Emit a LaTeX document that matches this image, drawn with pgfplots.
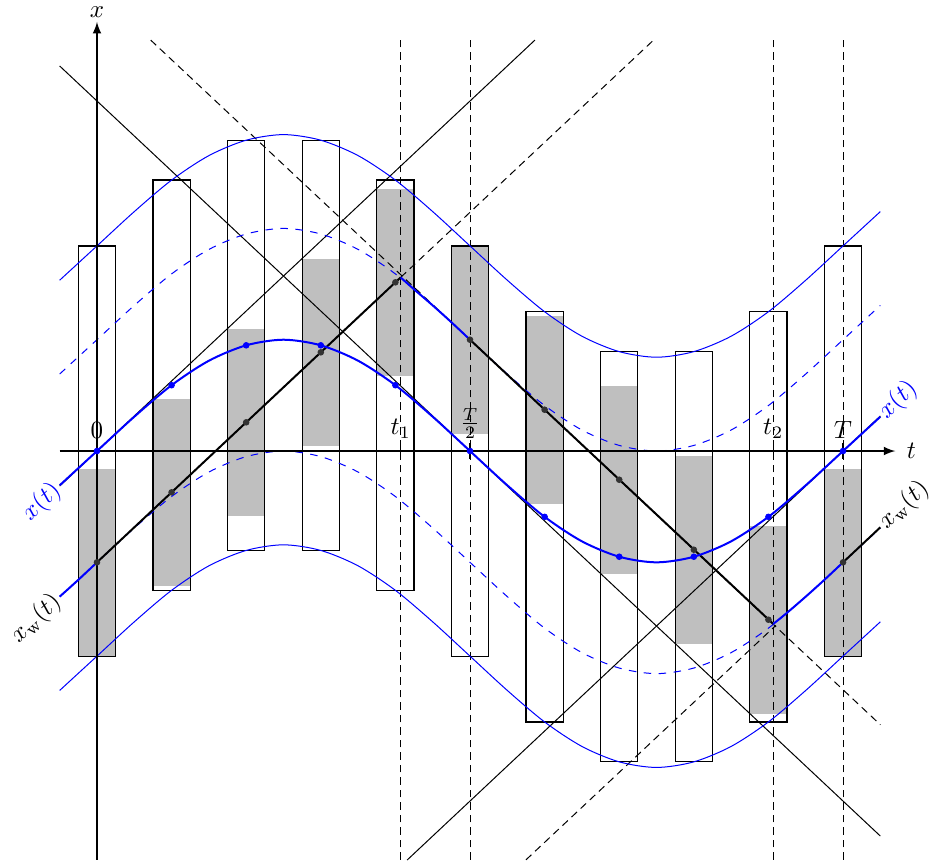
\documentclass[border=0pt]{standalone}
\usepackage{pgfplots}
\pgfplotsset{compat=1.18}
\begin{document}
\begin{tikzpicture}
\begin{axis}[x=29.84pt, y=28pt, xmin=-1.300, xmax=11.166, ymin=-5.929, ymax=6.443,
  hide axis, clip=false]
% gray windows
\addplot[fill=black!25, draw=none] coordinates {(-0.25,-2.93) (0.25,-2.93) (0.25,-0.25) (-0.25,-0.25)} --cycle;
\addplot[fill=black!25, draw=none] coordinates {(0.75,-1.93) (1.25,-1.93) (1.25,0.75) (0.75,0.75)} --cycle;
\addplot[fill=black!25, draw=none] coordinates {(1.75,-0.93) (2.25,-0.93) (2.25,1.75) (1.75,1.75)} --cycle;
\addplot[fill=black!25, draw=none] coordinates {(2.75,0.07) (3.25,0.07) (3.25,2.75) (2.75,2.75)} --cycle;
\addplot[fill=black!25, draw=none] coordinates {(3.75,1.07) (4.25,1.07) (4.25,3.75) (3.75,3.75)} --cycle;
\addplot[fill=black!25, draw=none] coordinates {(4.75,0.25) (5.25,0.25) (5.25,2.93) (4.75,2.93)} --cycle;
\addplot[fill=black!25, draw=none] coordinates {(5.75,-0.75) (6.25,-0.75) (6.25,1.93) (5.75,1.93)} --cycle;
\addplot[fill=black!25, draw=none] coordinates {(6.75,-1.75) (7.25,-1.75) (7.25,0.93) (6.75,0.93)} --cycle;
\addplot[fill=black!25, draw=none] coordinates {(7.75,-2.75) (8.25,-2.75) (8.25,-0.07) (7.75,-0.07)} --cycle;
\addplot[fill=black!25, draw=none] coordinates {(8.75,-3.75) (9.25,-3.75) (9.25,-1.07) (8.75,-1.07)} --cycle;
\addplot[fill=black!25, draw=none] coordinates {(9.75,-2.93) (10.25,-2.93) (10.25,-0.25) (9.75,-0.25)} --cycle;
% bars
\addplot[draw=black, line width=0.5pt] coordinates {(-0.25,-2.93) (0.25,-2.93) (0.25,2.93) (-0.25,2.93)} --cycle;
\addplot[draw=black, line width=0.5pt] coordinates {(0.75,-1.99) (1.25,-1.99) (1.25,3.87) (0.75,3.87)} --cycle;
\addplot[draw=black, line width=0.5pt] coordinates {(1.75,-1.42) (2.25,-1.42) (2.25,4.44) (1.75,4.44)} --cycle;
\addplot[draw=black, line width=0.5pt] coordinates {(2.75,-1.42) (3.25,-1.42) (3.25,4.44) (2.75,4.44)} --cycle;
\addplot[draw=black, line width=0.5pt] coordinates {(3.75,-1.99) (4.25,-1.99) (4.25,3.87) (3.75,3.87)} --cycle;
\addplot[draw=black, line width=0.5pt] coordinates {(4.75,-2.93) (5.25,-2.93) (5.25,2.93) (4.75,2.93)} --cycle;
\addplot[draw=black, line width=0.5pt] coordinates {(5.75,-3.87) (6.25,-3.87) (6.25,1.99) (5.75,1.99)} --cycle;
\addplot[draw=black, line width=0.5pt] coordinates {(6.75,-4.44) (7.25,-4.44) (7.25,1.42) (6.75,1.42)} --cycle;
\addplot[draw=black, line width=0.5pt] coordinates {(7.75,-4.44) (8.25,-4.44) (8.25,1.42) (7.75,1.42)} --cycle;
\addplot[draw=black, line width=0.5pt] coordinates {(8.75,-3.87) (9.25,-3.87) (9.25,1.99) (8.75,1.99)} --cycle;
\addplot[draw=black, line width=0.5pt] coordinates {(9.75,-2.93) (10.25,-2.93) (10.25,2.93) (9.75,2.93)} --cycle;
% vertical dashed lines
\addplot[densely dashed, line width=0.4pt] coordinates {(0,-5.84) (0,5.87)};
\addplot[densely dashed, line width=0.4pt] coordinates {(4.07,-5.84) (4.07,5.87)};
\addplot[densely dashed, line width=0.4pt] coordinates {(5,-5.84) (5,5.87)};
\addplot[densely dashed, line width=0.4pt] coordinates {(9.065,-5.84) (9.065,5.87)};
\addplot[densely dashed, line width=0.4pt] coordinates {(10,-5.84) (10,5.87)};
% light cones
\addplot[black, line width=0.4pt] coordinates {(-0.5,5.5) (10.5,-5.5)};
\addplot[black, line width=0.4pt] coordinates {(-0.5,-0.5) (5.87,5.87)};
\addplot[black, line width=0.4pt] coordinates {(4.157,-5.843) (10.5,0.5)};
\addplot[black, densely dashed, line width=0.4pt] coordinates {(0.72,5.87) (10.5,-3.91)};
\addplot[black, densely dashed, line width=0.4pt] coordinates {(4.07,2.48) (7.46,5.87)};
\addplot[black, densely dashed, line width=0.4pt] coordinates {(5.75,-5.84) (9.1,-2.49)};
% outer curves
\addplot[blue, line width=0.4pt, smooth] coordinates {(-0.5,2.44) (0,2.93) (0.5,3.42) (1,3.87) (1.5,4.22) (2,4.44) (2.5,4.52) (3,4.44) (3.5,4.22) (4,3.87) (4.5,3.42) (5,2.93) (5.5,2.44) (6,1.99) (6.5,1.64) (7,1.42) (7.5,1.34) (8,1.42) (8.5,1.64) (9,1.99) (9.5,2.44) (10,2.93) (10.5,3.42)};
\addplot[blue, line width=0.4pt, smooth] coordinates {(-0.5,-3.42) (0,-2.93) (0.5,-2.44) (1,-1.99) (1.5,-1.64) (2,-1.42) (2.5,-1.34) (3,-1.42) (3.5,-1.64) (4,-1.99) (4.5,-2.44) (5,-2.93) (5.5,-3.42) (6,-3.87) (6.5,-4.22) (7,-4.44) (7.5,-4.52) (8,-4.44) (8.5,-4.22) (9,-3.87) (9.5,-3.42) (10,-2.93) (10.5,-2.44)};
% dashed curves
\addplot[blue, dashed, line width=0.4pt, smooth] coordinates {(-0.5,1.10) (0,1.59) (0.5,2.08) (1,2.53) (1.5,2.88) (2,3.10) (2.5,3.18) (3,3.10) (3.5,2.88) (4,2.53) (4.5,2.08) (5,1.59) (5.5,1.10) (6,0.65) (6.5,0.30) (7,0.08) (7.5,0) (8,0.08) (8.5,0.30) (9,0.65) (9.5,1.10) (10,1.59) (10.5,2.08)};
\addplot[blue, dashed, line width=0.4pt, smooth] coordinates {(-0.5,-2.08) (0,-1.59) (0.5,-1.10) (1,-0.65) (1.5,-0.30) (2,-0.08) (2.5,0) (3,-0.08) (3.5,-0.30) (4,-0.65) (4.5,-1.10) (5,-1.59) (5.5,-2.08) (6,-2.53) (6.5,-2.88) (7,-3.10) (7.5,-3.18) (8,-3.10) (8.5,-2.88) (9,-2.53) (9.5,-2.08) (10,-1.59) (10.5,-1.10)};
% axes
\addplot[black, line width=0.6pt, -latex] coordinates {(-0.5,0) (10.7,0)};
\addplot[black, line width=0.6pt, -latex] coordinates {(0,-5.84) (0,6.13)};
\node[anchor=west, inner sep=0pt] at (axis cs:10.85,0) {$t$};
\node[anchor=base, inner sep=0pt] at (axis cs:0,6.19) {$x$};
% ticks
\addplot[black, line width=0.5pt] coordinates {(4.07,-0.11) (4.07,0.11)};
\addplot[black, line width=0.5pt] coordinates {(5,-0.11) (5,0.11)};
\addplot[black, line width=0.5pt] coordinates {(9.065,-0.11) (9.065,0.11)};
\addplot[black, line width=0.5pt] coordinates {(10,-0.11) (10,0.11)};
\node[anchor=south, inner sep=2pt] at (axis cs:0,0.1) {$0$};
\node[anchor=south, inner sep=2pt] at (axis cs:4.07,0.1) {$t_1$};
\node[anchor=south, inner sep=2pt] at (axis cs:5,0.1) {$\frac{T}{2}$};
\node[anchor=south, inner sep=2pt] at (axis cs:9.065,0.1) {$t_2$};
\node[anchor=south, inner sep=2pt] at (axis cs:10,0.1) {$T$};
% x_w(t) path
\addplot[black, line width=0.8pt] coordinates {(0,-1.59) (4.07,2.48)};
\addplot[black, line width=0.8pt] coordinates {(5,1.59) (9.065,-2.47)};
\addplot[black, line width=0.8pt] coordinates {(10,-1.59) (10.5,-1.09)};
\addplot[blue, line width=0.8pt, smooth] coordinates {(-0.5,-2.08) (-0.25,-1.84) (0,-1.59)};
\addplot[blue, line width=0.8pt, smooth] coordinates {(4.07,2.48) (4.25,2.31) (4.5,2.08) (4.75,1.84) (5,1.59)};
\addplot[blue, line width=0.8pt, smooth] coordinates {(9.065,-2.47) (9.25,-2.31) (9.5,-2.08) (9.75,-1.84) (10,-1.59)};
\addplot[only marks, mark=*, mark size=1.1pt, black!80] coordinates {(0,-1.59) (1,-0.59) (2,0.41) (3,1.41) (4,2.41) (5,1.59) (6,0.59) (7,-0.41) (8,-1.41) (9,-2.41) (10,-1.59)};
% x(t)
\addplot[blue, line width=0.8pt, smooth] coordinates {(-0.5,-0.49) (0,0) (0.5,0.49) (1,0.94) (1.5,1.29) (2,1.51) (2.5,1.59) (3,1.51) (3.5,1.29) (4,0.94) (4.5,0.49) (5,0) (5.5,-0.49) (6,-0.94) (6.5,-1.29) (7,-1.51) (7.5,-1.59) (8,-1.51) (8.5,-1.29) (9,-0.94) (9.5,-0.49) (10,0) (10.5,0.49)};
\addplot[only marks, mark=*, mark size=1.1pt, blue] coordinates {(0,0) (1,0.94) (2,1.51) (3,1.51) (4,0.94) (5,0) (6,-0.94) (7,-1.51) (8,-1.51) (9,-0.94) (10,0)};
% curve labels
\node[blue, rotate=43, anchor=west, inner sep=1pt] at (axis cs:10.5,0.49) {$x(t)$};
\node[black, rotate=43, anchor=west, inner sep=1pt] at (axis cs:10.5,-1.09) {$x_{\mathrm{w}}(t)$};
\node[blue, rotate=43, anchor=east, inner sep=1pt] at (axis cs:-0.5,-0.49) {$x(t)$};
\node[black, rotate=43, anchor=east, inner sep=1pt] at (axis cs:-0.5,-2.08) {$x_{\mathrm{w}}(t)$};
\end{axis}
\pgfresetboundingbox
\path[use as bounding box] (current axis.south west) rectangle (current axis.north east);
\end{tikzpicture}
\end{document}
